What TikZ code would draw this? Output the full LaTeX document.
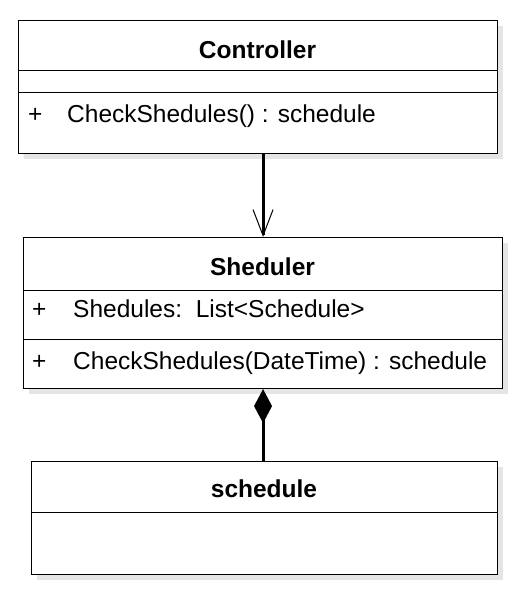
\documentclass[tikz,border=0pt]{standalone}
\usepackage{fontspec}
\setmainfont{Liberation Sans}
\usetikzlibrary{arrows.meta,shadows,calc}
\begin{document}
\begin{tikzpicture}[x=1pt,y=-1pt,
  classbox/.style={draw=black,line width=1.1pt,fill=white,inner sep=0pt,anchor=north west,
    drop shadow={shadow xshift=5pt,shadow yshift=-5pt,fill=black!10,opacity=1}},
  divider/.style={draw=black,line width=1pt},
  ttl/.style={font=\fontsize{24.5}{29}\selectfont\bfseries,anchor=base,inner sep=0pt},
  member/.style={font=\fontsize{24.5}{29}\selectfont,anchor=base west,inner sep=0pt},
  assoc/.style={line width=3pt,-{Straight Barb[length=26pt,width=20pt,line width=1pt]}},
  compo/.style={line width=3pt,{Diamond[length=34pt,width=18pt,line width=0pt]}-}
]
\useasboundingbox (0,0) rectangle (531,601);

% Controller
\node[classbox,minimum width=479pt,minimum height=133pt] (ctl) at (18,20) {};
\draw[divider] (18,71) -- (497,71);
\draw[divider] (18,93) -- (497,93);
\node[ttl] (ctltitle) at (257.5,59) {Controller};
\node[member] (ctlplus) at (28,123) {+};
\node[member] (ctlmeth) at (67,123) {CheckShedules() : schedule};

% Sheduler
\node[classbox,minimum width=479pt,minimum height=151pt] (sch) at (23,237) {};
\draw[divider] (23,290) -- (502,290);
\draw[divider] (23,339) -- (502,339);
\node[ttl] (schtitle) at (262.5,275) {Sheduler};
\node[member] (schplusa) at (32,317) {+};
\node[member] (schattr) at (73,317) {Shedules:\ \ List<Schedule>};
\node[member] (schplusm) at (32,369) {+};
\node[member] (schmeth) at (73,369) {CheckShedules(DateTime) : schedule};

% schedule
\node[classbox,minimum width=466pt,minimum height=113pt] (sc) at (31,461) {};
\draw[divider] (31,512) -- (497,512);
\node[ttl] (sctitle) at (264,497) {schedule};

% connectors
\draw[assoc] (sch.north |- ctl.south) -- (sch.north);
\draw[compo] (sch.south) -- (sch.south |- sc.north);
\end{tikzpicture}
\end{document}
